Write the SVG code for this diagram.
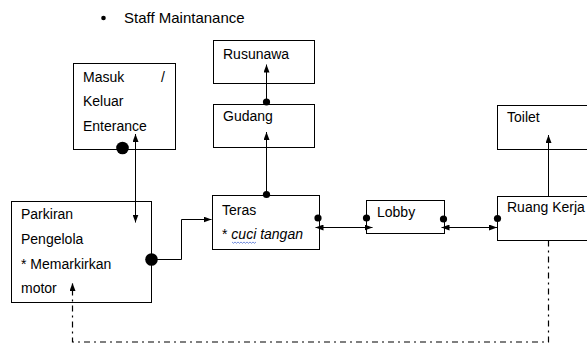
<svg xmlns="http://www.w3.org/2000/svg" width="587" height="345" viewBox="0 0 587 345">
<style>
text{font-family:"Liberation Sans",Arial,sans-serif;font-size:14px;fill:#000}
.box{fill:#fff;stroke:#000;stroke-width:1}
.ln{fill:none;stroke:#000;stroke-width:1}
.dd{fill:none;stroke:#000;stroke-width:1.2;stroke-dasharray:6 4 2 4}
.dot{fill:#000}
</style>
<defs>
<marker id="ah" viewBox="0 0 8 6" refX="8" refY="3" markerWidth="8" markerHeight="6" markerUnits="userSpaceOnUse" orient="auto-start-reverse">
<path d="M0,0 L8,3 L0,6 z" fill="#000"/>
</marker>
</defs>
<rect width="587" height="345" fill="#fff"/>
<g id="title">
<circle cx="103.5" cy="18" r="2.3" class="dot"/>
<text x="124" y="23" style="font-size:15px">Staff Maintanance</text>
</g>
<g id="rusunawa">
<rect class="box" x="213.5" y="40.5" width="101" height="43"/>
<text x="223" y="59">Rusunawa</text>
</g>
<g id="gudang">
<rect class="box" x="213.5" y="104.5" width="101" height="43"/>
<text x="223" y="121">Gudang</text>
</g>
<g id="masuk">
<rect class="box" x="73.5" y="63.5" width="102" height="86"/>
<text x="83" y="82">Masuk</text>
<text x="161" y="82">/</text>
<text x="83" y="106">Keluar</text>
<text x="83" y="130.5">Enterance</text>
</g>
<g id="parkiran">
<rect class="box" x="11.5" y="201.5" width="140" height="101"/>
<text x="21" y="219">Parkiran</text>
<text x="21" y="244">Pengelola</text>
<text x="21" y="269">* Memarkirkan</text>
<text x="21" y="293">motor</text>
</g>
<g id="teras">
<rect class="box" x="212.5" y="195.5" width="107" height="54"/>
<text x="222" y="215">Teras</text>
<text x="222" y="239">* <tspan font-style="italic">cuci tangan</tspan></text>
<polyline points="232,242 233.5,243.3 235,242 236.5,243.3 238,242 239.5,243.3 241,242 242.5,243.3 244,242 245.5,243.3 247,242 248.5,243.3 250,242 251.5,243.3 253,242 254.5,243.3 256,242" fill="none" stroke="#3a5fcd" stroke-width="0.7"/>
</g>
<g id="lobby">
<rect class="box" x="366.5" y="200.5" width="78" height="33"/>
<text x="377" y="217">Lobby</text>
</g>
<g id="ruang">
<rect class="box" x="497.5" y="196.5" width="120" height="44"/>
<text x="507" y="212">Ruang Kerja</text>
</g>
<g id="toilet">
<rect class="box" x="497.5" y="105.5" width="120" height="44"/>
<text x="507" y="122">Toilet</text>
</g>
<g id="connectors">
<line class="ln" x1="135.5" y1="134" x2="135.5" y2="222.5" marker-start="url(#ah)" marker-end="url(#ah)"/>
<circle cx="122.5" cy="148" r="6.3" class="dot"/>
<line class="ln" x1="266.5" y1="104" x2="266.5" y2="64.5" marker-end="url(#ah)"/>
<circle cx="266.5" cy="102" r="3.6" class="dot"/>
<line class="ln" x1="266.5" y1="195" x2="266.5" y2="132" marker-end="url(#ah)"/>
<circle cx="266.5" cy="194.5" r="3.6" class="dot"/>
<polyline class="ln" points="151.5,259.5 181.5,259.5 181.5,219.5 211.5,219.5" marker-end="url(#ah)"/>
<circle cx="151.5" cy="259.5" r="6.3" class="dot"/>
<line class="ln" x1="315.5" y1="227.5" x2="372.5" y2="227.5" marker-start="url(#ah)" marker-end="url(#ah)"/>
<circle cx="318" cy="218" r="3.6" class="dot"/>
<circle cx="366.5" cy="218" r="3.6" class="dot"/>
<line class="ln" x1="441.5" y1="227.5" x2="497" y2="227.5" marker-start="url(#ah)" marker-end="url(#ah)"/>
<circle cx="443.5" cy="219" r="3.6" class="dot"/>
<circle cx="497.5" cy="218.5" r="3.6" class="dot"/>
<line class="ln" x1="548.5" y1="196.5" x2="548.5" y2="135" marker-end="url(#ah)"/>
<path class="dd" d="M548.5,240.5 V342 H72.5 V283" marker-end="url(#ah)"/>
</g>
</svg>
